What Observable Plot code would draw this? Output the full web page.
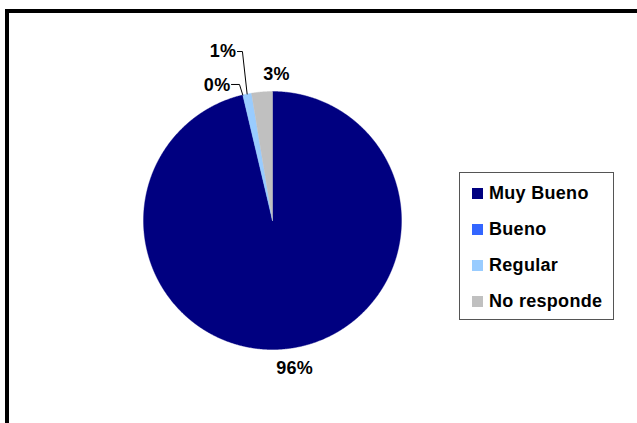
<!DOCTYPE html>
<html><head><meta charset="utf-8">
<script src="https://cdn.jsdelivr.net/npm/d3@7"></script>
<script src="https://cdn.jsdelivr.net/npm/@observablehq/plot@0.6"></script>
<style>
html,body{margin:0;padding:0;background:#fff;overflow:hidden;width:637px;height:423px}
#wrap{position:relative;width:637px;height:423px;overflow:hidden}
#frame{position:absolute;left:5px;top:9px;width:700px;height:500px;border-left:4px solid #000;border-top:4px solid #000;pointer-events:none}
#chart{position:absolute;left:0;top:0}
#legend{position:absolute;left:459px;top:172px;width:155px;height:148px;box-sizing:border-box;border:1px solid #555;background:#fff;
 font-family:"Liberation Sans",Arial,sans-serif;font-weight:bold;font-size:18px;letter-spacing:0.3px;color:#000}
.item{position:absolute;left:12px;height:20px;display:flex;align-items:center;white-space:nowrap}
.sw{width:11px;height:11px;margin-right:6px;flex:none}
</style></head>
<body><div id="wrap"><div id="chart"></div><div id="frame"></div><div id="legend"></div></div>
<script>
// ---- data ----
const categories = ["Muy Bueno", "Bueno", "Regular", "No responde"];
const values = [96.3, 0, 1.1, 2.6];
const colors = ["#000080", "#3366FF", "#99CCFF", "#C0C0C0"];

// ---- layout ----
const R = 129; // pie radius in px
const total = d3.sum(values);
const rows = categories.map((c, i) => ({cat: c, value: values[i]}));
const arcs = d3.pie().sort(null).value(d => d.value)(rows);
const pt = (a, r = 1) => ({x: Math.sin(a) * r, y: Math.cos(a) * r});

// slice polygons
const slicePts = [];
for (const a of arcs) {
  if (a.data.value <= 0) continue;
  slicePts.push({cat: a.data.cat, x: 0, y: 0});
  const n = Math.max(2, Math.ceil((a.endAngle - a.startAngle) / 0.005));
  for (let k = 0; k <= n; k++) {
    const t = a.startAngle + (a.endAngle - a.startAngle) * k / n;
    slicePts.push({cat: a.data.cat, ...pt(t)});
  }
  slicePts.push({cat: a.data.cat, x: 0, y: 0});
}
const pct = v => Math.round(v / total * 100) + "%";

// direct labels
const directLayout = {"Muy Bueno": {r: 1.145, dx: 5, dy: -1}, "No responde": {r: 1.14, dx: 16, dy: 0}};
const directLabels = arcs.filter(a => directLayout[a.data.cat]).map(a => {
  const L = directLayout[a.data.cat];
  const p = pt((a.startAngle + a.endAngle) / 2, L.r);
  return {x: p.x + L.dx / R, y: p.y + L.dy / R, label: pct(a.data.value)};
});
// callout labels with leader lines
const leaderLayout = {"Regular": {ex: -4.7, ey: 42.5, run: 5, ty: 0}, "Bueno": {ex: -3.3, ey: 10.5, run: 8, ty: -1}};
const leaderPts = [], leaderLabels = [];
for (const a of arcs) {
  const L = leaderLayout[a.data.cat];
  if (!L) continue;
  const p = pt((a.startAngle + a.endAngle) / 2);
  const e = {x: p.x + L.ex / R, y: p.y + L.ey / R};
  const s = {x: e.x - L.run / R, y: e.y};
  leaderPts.push({cat: a.data.cat, ...p}, {cat: a.data.cat, ...e}, {cat: a.data.cat, ...s});
  leaderLabels.push({x: s.x, y: s.y + L.ty / R, label: pct(a.data.value)});
}

const chart = Plot.plot({
  width: 637, height: 423,
  marginLeft: 143, marginRight: 236, marginTop: 91, marginBottom: 74,
  x: {domain: [-1, 1], axis: null},
  y: {domain: [-1, 1], axis: null},
  color: {domain: categories, range: colors},
  style: "font-family:'Liberation Sans',Arial,sans-serif;font-size:18px;font-weight:bold;letter-spacing:0.3px;background:transparent;overflow:visible",
  marks: [
    Plot.line(slicePts, {x: "x", y: "y", z: "cat", fill: "cat", stroke: "cat", strokeWidth: 0.4, curve: "linear"}),
    Plot.line(leaderPts, {x: "x", y: "y", z: "cat", stroke: "#000", strokeWidth: 1}),
    Plot.text(directLabels, {x: "x", y: "y", text: "label", fontSize: 18, fontWeight: "bold", fill: "#000"}),
    Plot.text(leaderLabels, {x: "x", y: "y", text: "label", fontSize: 18, textAnchor: "end", dx: -1, fontWeight: "bold", fill: "#000"})
  ]
});
document.getElementById("chart").appendChild(chart);

// legend
const leg = document.getElementById("legend");
categories.forEach((c, i) => {
  const d = document.createElement("div");
  d.className = "item";
  d.style.top = (21 + i * 36.3 - 1 - 10) + "px";
  const s = document.createElement("span");
  s.className = "sw"; s.style.background = colors[i];
  d.appendChild(s);
  d.appendChild(document.createTextNode(c));
  leg.appendChild(d);
});
</script></body></html>
